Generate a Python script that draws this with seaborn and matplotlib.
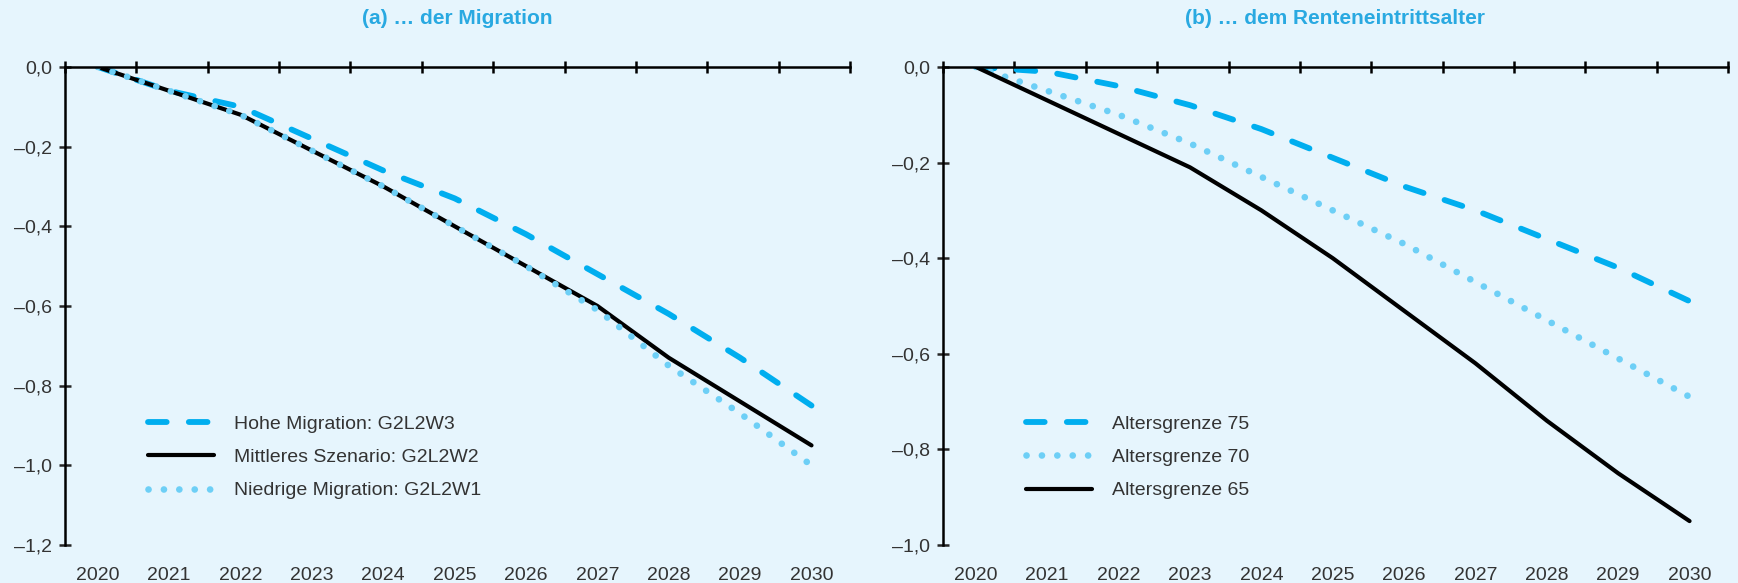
import numpy as np
import pandas as pd
import seaborn as sns
import matplotlib.pyplot as plt
from matplotlib.ticker import FixedLocator, FuncFormatter

# Jahre
years = list(range(2020, 2031))

# (a) Migration
hohe_migration = [0.0, -0.06, -0.10, -0.18, -0.26, -0.33, -0.42, -0.52, -0.62, -0.73, -0.85]
mittleres = [0.0, -0.06, -0.12, -0.21, -0.30, -0.40, -0.50, -0.60, -0.73, -0.84, -0.95]
niedrige_migration = [0.0, -0.06, -0.12, -0.21, -0.30, -0.40, -0.50, -0.61, -0.75, -0.87, -1.00]

# (b) Renteneintrittsalter
grenze_75 = [0.0, -0.01, -0.04, -0.08, -0.13, -0.19, -0.25, -0.30, -0.36, -0.42, -0.49]
grenze_70 = [0.0, -0.05, -0.10, -0.16, -0.23, -0.30, -0.37, -0.45, -0.53, -0.61, -0.69]
grenze_65 = [0.0, -0.07, -0.14, -0.21, -0.30, -0.40, -0.51, -0.62, -0.74, -0.85, -0.95]

titel_a = '(a) … der Migration'
titel_b = '(b) … dem Renteneintrittsalter'

BG = '#e6f5fd'
BLAU = '#00aeef'
HELLBLAU = '#6dcff6'
TITELBLAU = '#29a9e1'

sns.set_style('white')
plt.rcParams['font.family'] = ['Liberation Sans', 'DejaVu Sans']

fig = plt.figure(figsize=(17.38, 5.83), dpi=100, facecolor=BG)
ax_a = fig.add_axes([0.0374, 0.0652, 0.4517, 0.820])
ax_b = fig.add_axes([0.5426, 0.0652, 0.4517, 0.820])

stile = {
    'dash': dict(color=BLAU, lw=4.2, linestyle=(0, (3.2, 3.8)), dash_capstyle='round'),
    'solid': dict(color='black', lw=3.0, solid_capstyle='round'),
    'dot': dict(color=HELLBLAU, lw=4.8, linestyle=(0, (0.01, 2.3)), dash_capstyle='round'),
}

def fmt_y(v, pos):
    s = f'{abs(v):.1f}'.replace('.', ',')
    return s if abs(v) < 1e-9 else '–' + s

def style_axes(ax, ymin):
    ax.set_facecolor(BG)
    ax.set_xlim(2019.54, 2030.54)
    ax.set_ylim(ymin, 0)
    for s in ['right', 'bottom']:
        ax.spines[s].set_visible(False)
    for s in ['top', 'left']:
        ax.spines[s].set_color('black')
        ax.spines[s].set_linewidth(1.8)
    ax.set_xticks(years)
    ax.set_xticklabels([str(y) for y in years])
    ax.xaxis.set_minor_locator(FixedLocator([2019.54 + k for k in range(12)]))
    ax.tick_params(axis='x', which='major', bottom=True, top=False, length=0,
                   pad=16, labelsize=14, labelcolor='#333333')
    ax.tick_params(axis='x', which='minor', bottom=False, top=True, length=9,
                   width=1.8, direction='inout', color='black')
    ax.set_yticks(np.arange(ymin, 0.01, 0.2))
    ax.yaxis.set_major_formatter(FuncFormatter(fmt_y))
    ax.tick_params(axis='y', which='major', left=True, length=9, width=1.8,
                   direction='inout', pad=5, labelsize=14, labelcolor='#333333')
    ax.set_xlabel('')
    ax.set_ylabel('')
    ax.grid(False)

# Panel a
df_a = pd.DataFrame({'Jahr': years, 'hoch': hohe_migration, 'mittel': mittleres, 'niedrig': niedrige_migration})
sns.lineplot(data=df_a, x='Jahr', y='hoch', ax=ax_a, label='Hohe Migration: G2L2W3', **stile['dash'])
sns.lineplot(data=df_a, x='Jahr', y='mittel', ax=ax_a, label='Mittleres Szenario: G2L2W2', **stile['solid'])
sns.lineplot(data=df_a, x='Jahr', y='niedrig', ax=ax_a, label='Niedrige Migration: G2L2W1', **stile['dot'])
style_axes(ax_a, -1.2)

# Panel b
df_b = pd.DataFrame({'Jahr': years, 'g75': grenze_75, 'g70': grenze_70, 'g65': grenze_65})
sns.lineplot(data=df_b, x='Jahr', y='g75', ax=ax_b, label='Altersgrenze 75', **stile['dash'])
sns.lineplot(data=df_b, x='Jahr', y='g70', ax=ax_b, label='Altersgrenze 70', **stile['dot'])
sns.lineplot(data=df_b, x='Jahr', y='g65', ax=ax_b, label='Altersgrenze 65', **stile['solid'])
style_axes(ax_b, -1.0)

for ax in (ax_a, ax_b):
    leg = ax.legend(loc='upper left', bbox_to_anchor=(0.106, 0.271), frameon=False,
                    fontsize=14, handlelength=3.4, handletextpad=1.0,
                    labelspacing=0.8, borderpad=0, borderaxespad=0)
    for t in leg.get_texts():
        t.set_color('#333333')

fig.text(0.2633, 0.969, titel_a, ha='center', va='center', fontsize=15, fontweight='bold',
         color=TITELBLAU, family=['Liberation Sans Narrow', 'Liberation Sans', 'DejaVu Sans'])
fig.text(0.7684, 0.969, titel_b, ha='center', va='center', fontsize=15, fontweight='bold',
         color=TITELBLAU, family=['Liberation Sans Narrow', 'Liberation Sans', 'DejaVu Sans'])

fig.savefig('out.png', dpi=100, facecolor=BG)
